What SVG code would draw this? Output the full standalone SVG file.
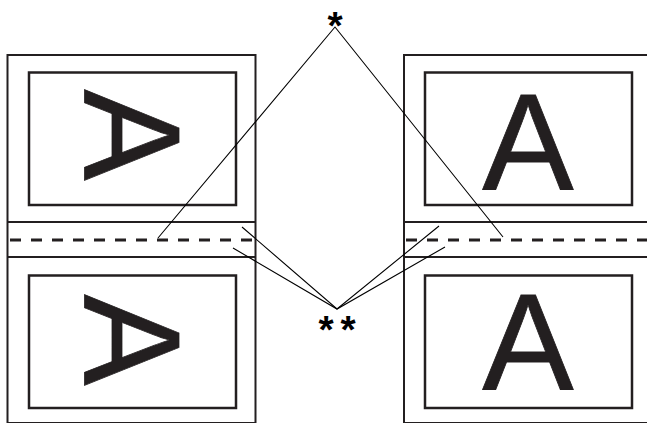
<svg xmlns="http://www.w3.org/2000/svg" width="647" height="424" viewBox="0 0 647 424">
<style>
.page{fill:none;stroke:#231f20;stroke-width:2}
.edge{fill:none;stroke:#231f20;stroke-width:1.2}
.inner{fill:none;stroke:#231f20;stroke-width:2.5}
.dash{fill:none;stroke:#231f20;stroke-width:2.8;stroke-dasharray:11 10}
.lead{fill:none;stroke:#000;stroke-width:1.1}
.big{font-family:"Liberation Sans",Arial,sans-serif;font-size:137px;fill:#231f20;stroke:#231f20;stroke-width:0.8;text-anchor:middle}
.ast{font-family:"Liberation Sans",Arial,sans-serif;font-size:39px;font-weight:bold;fill:#000;text-anchor:middle}
</style>
<rect width="647" height="424" fill="#fff"/>
<g id="left-page">
<path class="page" d="M7.5,423 V55 H255.5 V423"/>
<path class="edge" d="M7.5,422.5 H255.5"/>
<line class="page" x1="7.5" y1="222" x2="255.5" y2="222"/>
<line class="page" x1="7.5" y1="257" x2="255.5" y2="257"/>
<line class="dash" x1="10" y1="240" x2="255.5" y2="240"/>
<rect class="inner" x="29" y="72.5" width="207" height="132.5"/>
<rect class="inner" x="29" y="275.5" width="207" height="132.5"/>
<text class="big" transform="translate(133,135) rotate(90)" x="0" y="49">A</text>
<text class="big" transform="translate(133,340) rotate(90)" x="0" y="49">A</text>
</g>
<g id="right-page">
<path class="page" d="M404,423 V55 H647"/>
<path class="edge" d="M404,422.5 H647"/>
<line class="page" x1="404" y1="222" x2="647" y2="222"/>
<line class="page" x1="404" y1="257" x2="647" y2="257"/>
<line class="dash" x1="406" y1="240" x2="647" y2="240"/>
<rect class="inner" x="425" y="72.5" width="207" height="132.5"/>
<rect class="inner" x="425" y="275.5" width="207" height="132.5"/>
<text class="big" x="528" y="190">A</text>
<text class="big" x="528" y="390">A</text>
</g>
<g id="connectors">
<polyline class="lead" points="158,238 335,27 503,237"/>
<polyline class="lead" points="242,227 337,309 439,226"/>
<polyline class="lead" points="233,248 337,309 445,247"/>
</g>
<g id="label-single">
<text class="ast" x="335" y="39">*</text>
</g>
<g id="label-double">
<text class="ast" x="326" y="343">*</text>
<text class="ast" x="348" y="343">*</text>
</g>
</svg>
